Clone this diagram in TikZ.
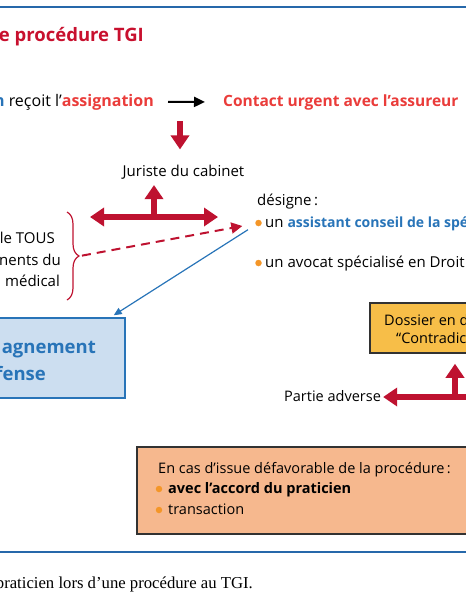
\documentclass[tikz,border=0pt]{standalone}
\usepackage{fontspec}
\setmainfont{Open Sans}
\newfontfamily\capfont{Liberation Serif}
\usetikzlibrary{positioning,arrows.meta,decorations.pathreplacing,calc}
\definecolor{RuleBlue}{RGB}{38,104,170}
\definecolor{TitleRed}{RGB}{200,16,46}
\definecolor{HotRed}{RGB}{234,60,58}
\definecolor{ArrowRed}{RGB}{190,18,48}
\definecolor{TextBlue}{RGB}{40,116,184}
\definecolor{DotOrange}{RGB}{244,150,40}
\definecolor{PaleBlue}{RGB}{204,222,240}
\definecolor{DossierYellow}{RGB}{247,190,72}
\definecolor{IssueOrange}{RGB}{246,184,142}
\definecolor{BoxEdge}{RGB}{50,50,50}

\begin{document}
\begin{tikzpicture}[x=1pt,y=-1pt,
txt/.style={font=\fontsize{15}{18}\selectfont,inner sep=2pt},
hot/.style={txt,text=HotRed,font=\fontsize{15.5}{18}\selectfont\bfseries},
titre/.style={txt,text=TitleRed,font=\fontsize{18.5}{22}\selectfont\bfseries},
boxtxt/.style={txt,text=TextBlue,font=\fontsize{18.5}{22}\selectfont\bfseries},
capt/.style={txt,font=\capfont\fontsize{16.7}{20}\selectfont},
dot/.style={circle,fill=DotOrange,inner sep=0pt,minimum size=6.5pt},
bluebox/.style={draw=TextBlue,fill=PaleBlue,line width=1.5pt,minimum width=140pt,minimum height=80pt,inner sep=0pt},
filebox/.style={draw=BoxEdge,fill=#1,line width=1.5pt,inner sep=0pt},
rule/.style={RuleBlue,line width=2.5pt},
bigarr/.style={ArrowRed,line width=6pt,-{Triangle[width=18pt,length=14pt]}},
dblarr/.style={ArrowRed,line width=6pt,{Triangle[width=18pt,length=14pt]}-{Triangle[width=18pt,length=14pt]}},
blackarr/.style={black,line width=2pt,-{Triangle[width=10pt,length=11pt]}},
dasharr/.style={ArrowRed,line width=2pt,dash pattern=on 9pt off 6pt,-{Triangle[width=11pt,length=11pt]}},
bluearr/.style={TextBlue,line width=1.2pt,-{Triangle[width=7pt,length=8pt]}}
]
\useasboundingbox (0,0) rectangle (466,600);
\clip (0,0) rectangle (466,600);

% rules and title
\draw[rule] (0,7) -- (466,7);
\draw[rule] (0,552) -- (466,552);
\node[titre,anchor=base east] (title) at (146,41) {e procédure TGI};

% first row
\node[txt,font=\fontsize{16}{18}\selectfont,anchor=base east] (recoit) at (156,106) {{\color{TextBlue}\bfseries n} reçoit l’{\color{HotRed}\bfseries assignation}};
\node[hot,anchor=base west] (contact) at (221,106) {Contact urgent avec l’assureur};
\draw[blackarr,shorten <=12pt,shorten >=16pt] (recoit.east) -- (contact.west);

% juriste
\node[txt,anchor=base] (juriste) at (183.5,176) {Juriste du cabinet};
\coordinate (drop) at (180,121);
\draw[bigarr,shorten >=13pt] (drop) -- (drop |- juriste.north);
\coordinate (tl) at (90,217);
\coordinate (tr) at (218,217);
\coordinate (tmid) at (154,217);
\draw[dblarr] (tl) -- (tr);
\draw[bigarr,shorten >=4pt] (tmid) -- (tmid |- juriste.south);

% dossier medical
\node[txt,anchor=base east] (doc1) at (57,243) {le TOUS};
\node[txt,anchor=base east] (doc2) at (63,265) {nents du};
\node[txt,anchor=base east] (doc3) at (62,286) {médical};
\draw[ArrowRed,line width=1.2pt,decorate,decoration={brace,amplitude=12pt}] (67,212) -- (67,300);
\coordinate (brtip) at (80,256);

% designe
\node[txt,anchor=base west] (designe) at (255,205) {désigne\,:};
\node[dot] (d1) at (258.5,223) {};
\node[txt,anchor=base west] (assist) at (263,227) {un {\color{TextBlue}\fontsize{14}{18}\selectfont\bfseries assistant conseil de la spé}};
\node[dot] (d2) at (258.5,263) {};
\node[txt,anchor=base west] (avocat) at (263,267) {un avocat spécialisé en Droit};
\draw[dasharr,shorten <=2pt,shorten >=13pt] (brtip) -- (d1);

% accompagnement
\node[bluebox] (accomp) at (55,358) {};
\node[boxtxt,anchor=base east] (acc1) at (98,353) {agnement};
\node[boxtxt,anchor=base east] (acc2) at (48,380) {fense};
\draw[bluearr,shorten <=9pt] (d1) -- ($(accomp.north east)+(-12,-2)$);

% dossier contradictoire
\node[filebox=DossierYellow,minimum width=110pt,minimum height=50pt] (dossier) at (425,328) {};
\node[txt,font=\fontsize{14.5}{18}\selectfont,anchor=base west] (dos1) at (382,325) {Dossier en d};
\node[txt,font=\fontsize{14.5}{18}\selectfont,anchor=base west] (dos2) at (394,343) {“Contradic};
\node[txt,font=\fontsize{14.5}{18}\selectfont,anchor=base west] (partie) at (282,401) {Partie adverse};
\coordinate (br) at (480,397);
\coordinate (bmid) at (455,397);
\draw[bigarr] (br) -- (br -| partie.east);
\draw[bigarr,shorten >=10pt] (bmid) -- (bmid |- dossier.south);

% issue defavorable
\node[filebox=IssueOrange,minimum width=343pt,minimum height=87pt] (issue) at (308.5,490.5) {};
\node[txt,font=\fontsize{14.5}{18}\selectfont,anchor=base west] (iss1) at (156,473) {En cas d’issue défavorable de la procédure\,:};
\node[dot] (d3) at (159,489) {};
\node[txt,font=\fontsize{14.5}{18}\selectfont\bfseries,anchor=base west] (iss2) at (166,493) {avec l’accord du praticien};
\node[dot] (d4) at (159,510) {};
\node[txt,font=\fontsize{14.5}{18}\selectfont,anchor=base west] (iss3) at (166,514) {transaction};

% legende
\node[capt,anchor=base east] (caption) at (255,588) {praticien lors d’une procédure au TGI.};
\end{tikzpicture}
\end{document}
